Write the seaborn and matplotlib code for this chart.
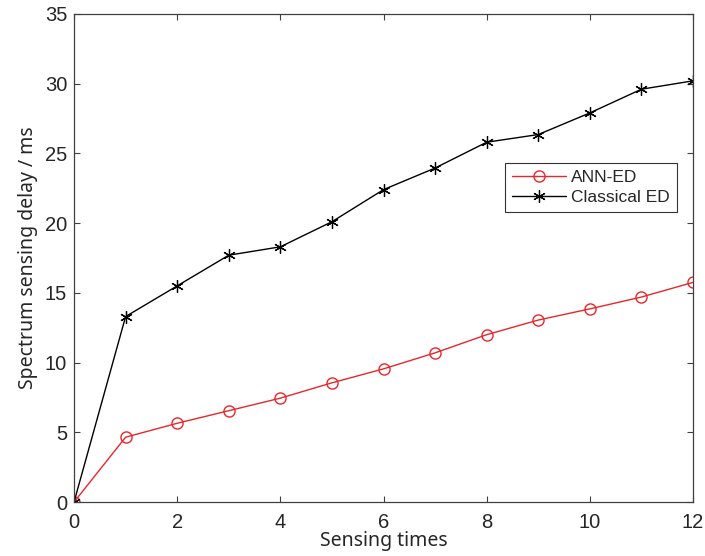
import matplotlib.pyplot as plt
import pandas as pd
import seaborn as sns

# Values
sensing_times = [0, 1, 2, 3, 4, 5, 6, 7, 8, 9, 10, 11, 12]
ann_ed = [0, 4.65, 5.65, 6.55, 7.45, 8.55, 9.55, 10.7, 12.0, 13.05, 13.85, 14.7, 15.75]
classical_ed = [0, 13.3, 15.5, 17.7, 18.3, 20.1, 22.4, 23.95, 25.8, 26.35, 27.9, 29.6, 30.2]
x_ticks = [0, 2, 4, 6, 8, 10, 12]
y_ticks = [0, 5, 10, 15, 20, 25, 30, 35]

df = pd.DataFrame({"x": sensing_times, "ANN-ED": ann_ed, "Classical ED": classical_ed})

sns.set_theme(style="white")
plt.rcParams["font.family"] = ["Liberation Sans", "DejaVu Sans"]

fig = plt.figure(figsize=(7.05, 5.56), dpi=100)
ax = fig.add_axes([0.105, 0.097, 0.878, 0.878])

sns.lineplot(data=df, x="x", y="ANN-ED", ax=ax, color="#e8262b", linewidth=1,
             marker="o", markersize=8, markerfacecolor="none",
             markeredgecolor="#e8262b", markeredgewidth=1, label="ANN-ED")
sns.lineplot(data=df, x="x", y="Classical ED", ax=ax, color="black", linewidth=1,
             marker=(6, 2, 0), markersize=9, markeredgecolor="black",
             markeredgewidth=0.9, label="Classical ED")

ax.set_xlim(0, 12)
ax.set_ylim(0, 35)
ax.set_xticks(x_ticks)
ax.set_yticks(y_ticks)
ax.tick_params(direction="in", length=4, width=0.8, colors="#404040",
               labelcolor="#262626", labelsize=14.5, top=True, right=True,
               bottom=True, left=True)
ax.tick_params(axis="x", pad=8)
ax.tick_params(axis="y", pad=5)
for s in ax.spines.values():
    s.set_color("#404040")
    s.set_linewidth(0.9)

ax.set_xlabel("Sensing times", fontsize=14, family=["Noto Sans", "DejaVu Sans"],
              color="#262626", labelpad=-1)
ax.set_ylabel("Spectrum sensing delay / ms", fontsize=14,
              family=["Noto Sans", "DejaVu Sans"], color="#262626", labelpad=5)

leg = ax.legend(loc="upper left", bbox_to_anchor=(0.696, 0.695), fontsize=12.5,
                frameon=True, fancybox=False, edgecolor="black", handlelength=3.1,
                borderpad=0.4, labelspacing=0.3, handletextpad=0.3,
                borderaxespad=0)
leg.get_frame().set_linewidth(0.8)

fig.savefig("out.png", dpi=100)
